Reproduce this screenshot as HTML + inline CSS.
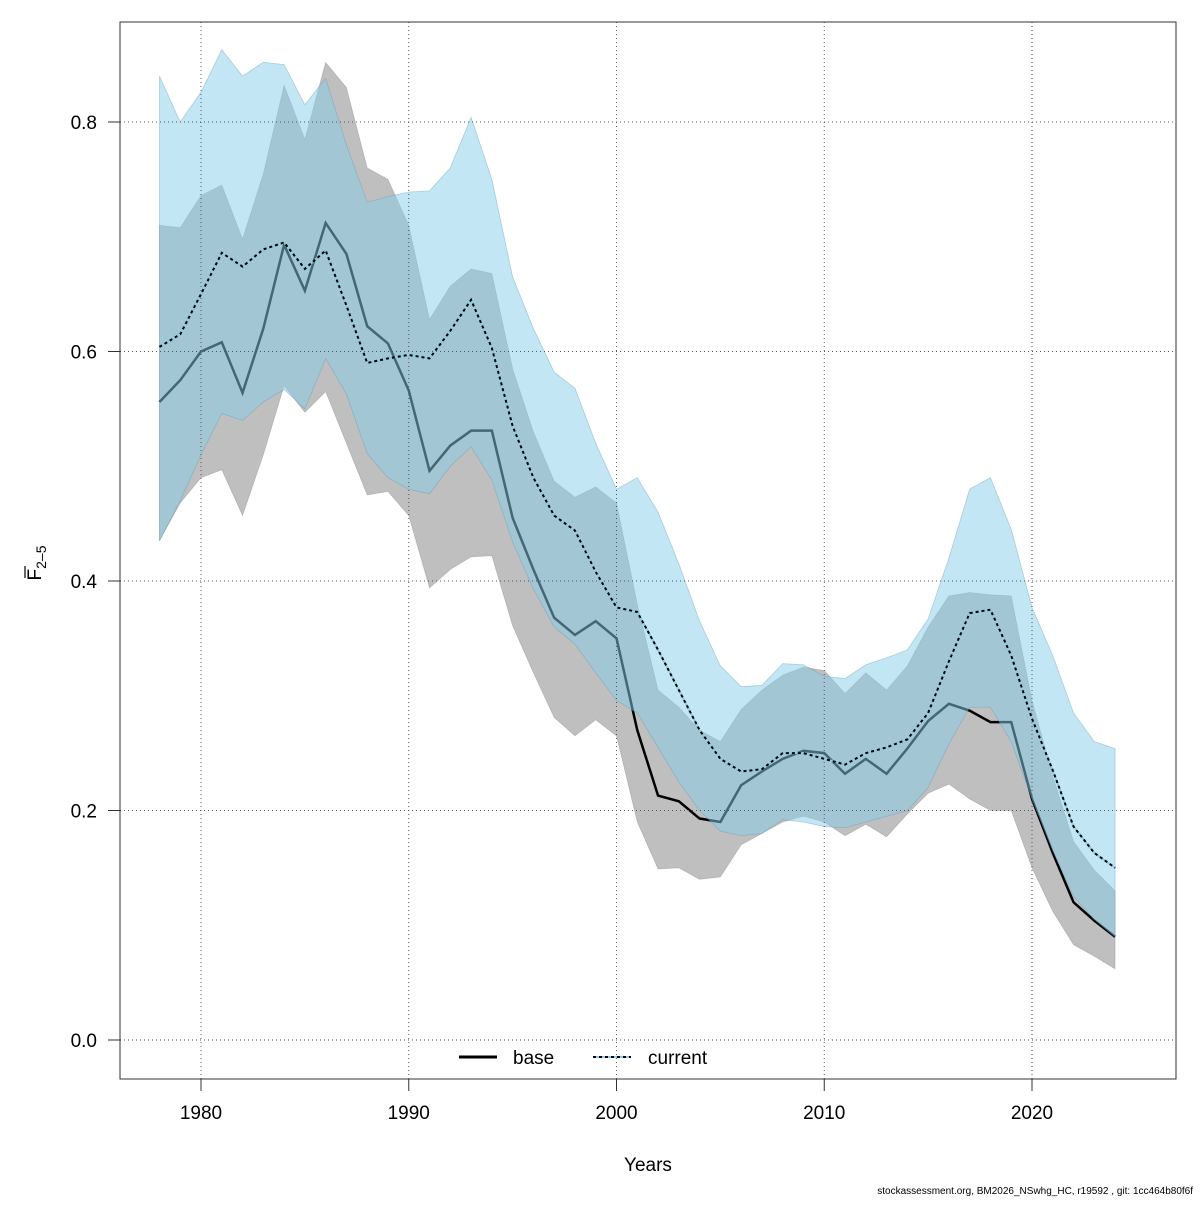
<!DOCTYPE html>
<html><head><meta charset="utf-8"><style>
body{margin:0;background:#fff;}
svg text{font-family:"Liberation Sans",sans-serif;}
</style></head><body>
<svg id="chart" width="1200" height="1200" xmlns="http://www.w3.org/2000/svg"></svg>
<script>
const years=[];for(let y=1978;y<=2024;y++)years.push(y);
const baseMid=[0.556,0.575,0.600,0.608,0.564,0.62,0.693,0.653,0.712,0.685,0.622,0.607,0.566,0.496,0.518,0.531,0.531,0.455,0.41,0.368,0.353,0.365,0.35,0.27,0.213,0.208,0.193,0.19,0.222,0.234,0.245,0.252,0.25,0.232,0.245,0.232,0.254,0.278,0.293,0.287,0.277,0.277,0.21,0.163,0.12,0.104,0.09];
const baseLow=[0.435,0.468,0.49,0.497,0.457,0.51,0.57,0.547,0.565,0.52,0.475,0.478,0.457,0.394,0.41,0.421,0.422,0.361,0.32,0.281,0.265,0.279,0.265,0.19,0.149,0.15,0.14,0.142,0.17,0.18,0.19,0.195,0.19,0.178,0.188,0.177,0.197,0.215,0.223,0.21,0.2,0.2,0.15,0.112,0.083,0.073,0.062];
const baseHigh=[0.71,0.708,0.736,0.745,0.698,0.755,0.832,0.785,0.852,0.83,0.76,0.75,0.71,0.628,0.657,0.672,0.668,0.585,0.53,0.487,0.473,0.482,0.468,0.38,0.305,0.29,0.27,0.26,0.288,0.305,0.318,0.325,0.322,0.302,0.32,0.305,0.326,0.36,0.387,0.39,0.388,0.387,0.296,0.23,0.173,0.148,0.13];
const curMid=[0.604,0.615,0.65,0.686,0.674,0.689,0.695,0.672,0.688,0.64,0.59,0.594,0.597,0.594,0.618,0.645,0.603,0.535,0.49,0.457,0.444,0.408,0.377,0.373,0.34,0.305,0.27,0.245,0.234,0.236,0.25,0.25,0.245,0.24,0.25,0.255,0.262,0.285,0.33,0.372,0.375,0.335,0.28,0.235,0.186,0.163,0.15];
const curLow=[0.435,0.47,0.51,0.546,0.54,0.556,0.567,0.55,0.594,0.563,0.511,0.49,0.48,0.476,0.5,0.517,0.488,0.434,0.393,0.36,0.345,0.32,0.296,0.285,0.255,0.225,0.2,0.182,0.178,0.18,0.192,0.19,0.186,0.185,0.19,0.195,0.2,0.22,0.258,0.29,0.29,0.26,0.21,0.165,0.125,0.105,0.09];
const curHigh=[0.84,0.8,0.826,0.863,0.84,0.852,0.85,0.815,0.838,0.78,0.73,0.735,0.739,0.74,0.76,0.804,0.75,0.665,0.62,0.582,0.568,0.52,0.48,0.49,0.46,0.415,0.365,0.326,0.308,0.309,0.328,0.327,0.317,0.315,0.327,0.333,0.34,0.367,0.42,0.48,0.49,0.445,0.377,0.335,0.285,0.26,0.254];
const xTicks=[1980,1990,2000,2010,2020];
const yTicks=[0,0.2,0.4,0.6,0.8];
const yTickLabels=["0.0","0.2","0.4","0.6","0.8"];

const svg=document.getElementById('chart');const NS='http://www.w3.org/2000/svg';
const X=v=>201+(v-1980)*20.775;
const Y=v=>1040-v*1147.5;
function mk(t,a,p){const e=document.createElementNS(NS,t);for(const k in a)e.setAttribute(k,a[k]);(p||svg).appendChild(e);return e;}
function band(lo,hi,fill,stroke,name){
  let d='M'+years.map((y,i)=>X(y)+','+Y(hi[i])).join('L');
  d+='L'+years.slice().reverse().map((y,j)=>{const i=years.length-1-j;return X(y)+','+Y(lo[i]);}).join('L')+'Z';
  const p=mk('path',{d:d,fill:fill,stroke:stroke,'stroke-width':0.8});
  
  
}
function line(v,attrs,name){
  const p=mk('polyline',Object.assign({points:years.map((y,i)=>X(y)+','+Y(v[i])).join(' '),fill:'none'},attrs));
  
  
}
band(baseLow,baseHigh,'rgba(0,0,0,0.25)','rgba(0,0,0,0.15)','base-ci-band');
line(baseMid,{stroke:'#000','stroke-width':2.5},'base-line');
band(curLow,curHigh,'rgba(135,206,235,0.5)','rgba(90,150,180,0.4)','current-ci-band');
xTicks.forEach(t=>{const l=mk('line',{x1:X(t),x2:X(t),y1:22,y2:1079,stroke:'#555','stroke-dasharray':'1,3','stroke-width':1});
});
yTicks.forEach(t=>{const l=mk('line',{x1:120,x2:1176,y1:Y(t),y2:Y(t),stroke:'#555','stroke-dasharray':'1,3','stroke-width':1});
});
line(curMid,{stroke:'#87ceeb','stroke-width':2},'current-line-base');
line(curMid,{stroke:'#000','stroke-width':2,'stroke-dasharray':'3,3'},'current-line');
const fr=mk('rect',{x:120,y:22,width:1056,height:1057,fill:'none',stroke:'#333','stroke-width':1});

xTicks.forEach(t=>{const l=mk('line',{x1:X(t),x2:X(t),y1:1079,y2:1091,stroke:'#333'});

const tx=mk('text',{x:X(t),y:1119,'text-anchor':'middle','font-size':19,fill:'#000'});tx.textContent=t;
});
yTicks.forEach((t,i)=>{const l=mk('line',{x1:108,x2:120,y1:Y(t),y2:Y(t),stroke:'#333'});

const tx=mk('text',{x:97,y:Y(t)+7,'text-anchor':'end','font-size':19,fill:'#000'});tx.textContent=yTickLabels[i];
});
</script>
<svg width="1200" height="1200" style="position:absolute;left:0;top:0;pointer-events:none" xmlns="http://www.w3.org/2000/svg">
<text x="648" y="1171" text-anchor="middle" font-size="19">Years</text>
<g transform="translate(41,563) rotate(-90)">
<text x="0" y="0" text-anchor="middle" font-size="19"><tspan>F</tspan><tspan font-size="14" dy="5">2–5</tspan></text>
<line x1="-15" x2="-3" y1="-16" y2="-16" stroke="#000" stroke-width="1.2"/>
</g>
<g>
<line x1="459" x2="497" y1="1057" y2="1057" stroke="#000" stroke-width="3"/>
<text x="513" y="1064" font-size="19">base</text>
<line x1="593" x2="631" y1="1057" y2="1057" stroke="#87ceeb" stroke-width="2"/>
<line x1="593" x2="631" y1="1057" y2="1057" stroke="#000" stroke-width="2" stroke-dasharray="3,3"/>
<text x="648" y="1064" font-size="19">current</text>
</g>
<text x="1193" y="1194" text-anchor="end" font-size="10">stockassessment.org, BM2026_NSwhg_HC, r19592 , git: 1cc464b80f6f</text>
</svg>
</body></html>
